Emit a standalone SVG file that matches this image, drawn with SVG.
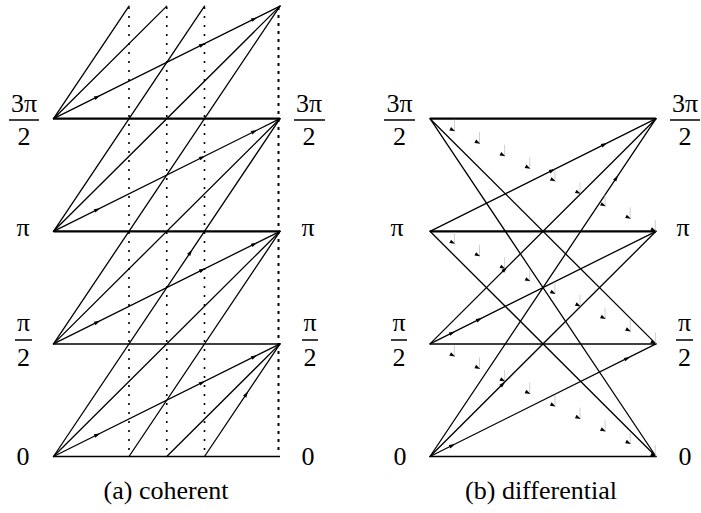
<svg xmlns="http://www.w3.org/2000/svg" xmlns:xlink="http://www.w3.org/1999/xlink" width="701" height="513" viewBox="0 0 701 513">
<style>
.t{font-family:"Liberation Serif","Times New Roman",serif;font-size:26px;fill:#000;text-anchor:middle}
.ln{stroke:#000;stroke-width:1.3;fill:none;stroke-linecap:round}
.hb{stroke:#000;stroke-width:2.3;fill:none}
.hn{stroke:#000;stroke-width:1.5;fill:none}
.bar{stroke:#000;stroke-width:1.5}
.dot{stroke:#000;stroke-width:1.6;stroke-dasharray:2 7;fill:none}
.dotr{stroke:#000;stroke-width:2;stroke-dasharray:3 5;fill:none}
.tick{stroke:#c4c4c4;stroke-width:0.8}
</style>
<defs>
<path id="ah" d="M0,0 L-6,-1.9 L-6,1.9 Z" fill="#000"/>
<g id="mk"><line class="tick" x1="-0.7" y1="-11.5" x2="-0.7" y2="0"/><path d="M0,0 L-5.5,-1.9 L-5.5,1.9 Z" fill="#000" transform="rotate(26.5)"/></g>
</defs>

<g id="labels-a">
<g id="a-left-3pi2"><text class="t" x="24" y="112">3π</text><line class="bar" x1="9" y1="120" x2="39" y2="120"/><text class="t" x="24" y="145">2</text></g>
<g id="a-left-pi"><text class="t" x="23" y="236">π</text></g>
<g id="a-left-pi2"><text class="t" x="23.5" y="331">π</text><line class="bar" x1="15" y1="340" x2="32" y2="340"/><text class="t" x="23.5" y="366">2</text></g>
<g id="a-left-0"><text class="t" x="23" y="465">0</text></g>
<g id="a-right-3pi2"><text class="t" x="309" y="112">3π</text><line class="bar" x1="294" y1="120" x2="325" y2="120"/><text class="t" x="309" y="145">2</text></g>
<g id="a-right-pi"><text class="t" x="308" y="236">π</text></g>
<g id="a-right-pi2"><text class="t" x="310" y="331">π</text><line class="bar" x1="302" y1="340" x2="318" y2="340"/><text class="t" x="310" y="366">2</text></g>
<g id="a-right-0"><text class="t" x="308" y="465">0</text></g>
<text class="t" x="166" y="499">(a) coherent</text>
</g>

<g id="labels-b">
<g id="b-left-3pi2"><text class="t" x="399.5" y="112">3π</text><line class="bar" x1="384" y1="120" x2="415" y2="120"/><text class="t" x="399.5" y="145">2</text></g>
<g id="b-left-pi"><text class="t" x="397" y="236">π</text></g>
<g id="b-left-pi2"><text class="t" x="399" y="331">π</text><line class="bar" x1="391" y1="340" x2="407" y2="340"/><text class="t" x="399" y="366">2</text></g>
<g id="b-left-0"><text class="t" x="400" y="465">0</text></g>
<g id="b-right-3pi2"><text class="t" x="685" y="112">3π</text><line class="bar" x1="670" y1="120" x2="700" y2="120"/><text class="t" x="685" y="145">2</text></g>
<g id="b-right-pi"><text class="t" x="683" y="236">π</text></g>
<g id="b-right-pi2"><text class="t" x="684.5" y="331">π</text><line class="bar" x1="676" y1="340" x2="693" y2="340"/><text class="t" x="684.5" y="366">2</text></g>
<g id="b-right-0"><text class="t" x="685" y="465">0</text></g>
<text class="t" x="541" y="499">(b) differential</text>
</g>

<g id="connectors-a">
<line class="dot" x1="129" y1="7" x2="129" y2="450"/>
<line class="dot" x1="166.75" y1="7" x2="166.75" y2="450"/>
<line class="dot" x1="204.5" y1="7" x2="204.5" y2="450"/>
<line class="dotr" x1="278.5" y1="7" x2="278.5" y2="452"/>
<line class="hn" x1="53.5" y1="456.5" x2="280" y2="456.5"/>
<line class="hn" x1="53.5" y1="343.9" x2="280" y2="343.9"/>
<line class="hb" x1="53.5" y1="231.3" x2="280" y2="231.3"/>
<line class="hb" x1="53.5" y1="118.7" x2="280" y2="118.7"/>
<line class="ln" x1="53.5" y1="456.5" x2="280" y2="343.9"/>
<line class="ln" x1="53.5" y1="343.9" x2="280" y2="231.3"/>
<line class="ln" x1="53.5" y1="231.3" x2="280" y2="118.7"/>
<line class="ln" x1="53.5" y1="118.7" x2="280" y2="6.1"/>
<line class="ln" x1="166.75" y1="456.5" x2="280" y2="343.9"/>
<line class="ln" x1="53.5" y1="456.5" x2="280" y2="231.3"/>
<line class="ln" x1="53.5" y1="343.9" x2="280" y2="118.7"/>
<line class="ln" x1="53.5" y1="231.3" x2="280" y2="6.1"/>
<line class="ln" x1="53.5" y1="118.7" x2="166.75" y2="6.1"/>
<line class="ln" x1="204.5" y1="456.5" x2="280" y2="343.9"/>
<line class="ln" x1="129" y1="456.5" x2="280" y2="231.3"/>
<line class="ln" x1="53.5" y1="456.5" x2="280" y2="118.7"/>
<line class="ln" x1="53.5" y1="343.9" x2="280" y2="6.1"/>
<line class="ln" x1="53.5" y1="231.3" x2="204.5" y2="6.1"/>
<line class="ln" x1="53.5" y1="118.7" x2="129" y2="6.1"/>
<use xlink:href="#ah" transform="translate(100,433.4) rotate(-26.4)"/>
<use xlink:href="#ah" transform="translate(205,381.2) rotate(-26.4)"/>
<use xlink:href="#ah" transform="translate(257,355.3) rotate(-26.4)"/>
<use xlink:href="#ah" transform="translate(100,320.8) rotate(-26.4)"/>
<use xlink:href="#ah" transform="translate(205,268.6) rotate(-26.4)"/>
<use xlink:href="#ah" transform="translate(257,242.7) rotate(-26.4)"/>
<use xlink:href="#ah" transform="translate(100,208.2) rotate(-26.4)"/>
<use xlink:href="#ah" transform="translate(205,156.0) rotate(-26.4)"/>
<use xlink:href="#ah" transform="translate(257,130.1) rotate(-26.4)"/>
<use xlink:href="#ah" transform="translate(100,95.6) rotate(-26.4)"/>
<use xlink:href="#ah" transform="translate(205,43.4) rotate(-26.4)"/>
<use xlink:href="#ah" transform="translate(257,17.5) rotate(-26.4)"/>
<use xlink:href="#ah" transform="translate(248,391.6) rotate(-56.2)"/>
<use xlink:href="#ah" transform="translate(192,249.9) rotate(-56.2)"/>
</g>

<g id="connectors-b">
<line class="hn" x1="430" y1="456.5" x2="656" y2="456.5"/>
<line class="hn" x1="430" y1="343.9" x2="656" y2="343.9"/>
<line class="hb" x1="430" y1="231.3" x2="656" y2="231.3"/>
<line class="hb" x1="430" y1="118.7" x2="656" y2="118.7"/>
<line class="ln" x1="430" y1="456.5" x2="656" y2="343.9"/>
<line class="ln" x1="430" y1="456.5" x2="656" y2="231.3"/>
<line class="ln" x1="430" y1="456.5" x2="656" y2="118.7"/>
<line class="ln" x1="430" y1="343.9" x2="656" y2="231.3"/>
<line class="ln" x1="430" y1="343.9" x2="656" y2="118.7"/>
<line class="ln" x1="430" y1="231.3" x2="656" y2="118.7"/>
<line class="ln" x1="430" y1="231.3" x2="656" y2="456.5"/>
<line class="ln" x1="430" y1="118.7" x2="656" y2="343.9"/>
<line class="ln" x1="430" y1="118.7" x2="656" y2="456.5"/>
<use xlink:href="#ah" transform="translate(507,267.2) rotate(-44.9)"/>
<use xlink:href="#ah" transform="translate(555,169.0) rotate(-26.5)"/>
<use xlink:href="#ah" transform="translate(607,143.1) rotate(-26.5)"/>
<use xlink:href="#ah" transform="translate(618,175.5) rotate(-56.2)"/>
<use xlink:href="#ah" transform="translate(505,381.8) rotate(-44.9)"/>
<use xlink:href="#ah" transform="translate(455,331.4) rotate(-26.5)"/>
<use xlink:href="#ah" transform="translate(482,318.0) rotate(-26.5)"/>
<use xlink:href="#ah" transform="translate(455,444.0) rotate(-26.5)"/>
<use xlink:href="#ah" transform="translate(630,356.9) rotate(-26.5)"/>
<g id="marks-3to2">
<use xlink:href="#mk" x="455.1" y="131.2"/><use xlink:href="#mk" x="480.2" y="143.7"/><use xlink:href="#mk" x="505.3" y="156.2"/><use xlink:href="#mk" x="530.4" y="168.7"/><use xlink:href="#mk" x="555.6" y="181.3"/><use xlink:href="#mk" x="580.7" y="193.8"/><use xlink:href="#mk" x="605.8" y="206.3"/><use xlink:href="#mk" x="630.9" y="218.8"/><use xlink:href="#mk" x="656" y="231.3"/>
</g>
<g id="marks-2to1">
<use xlink:href="#mk" x="455.1" y="243.8"/><use xlink:href="#mk" x="480.2" y="256.3"/><use xlink:href="#mk" x="505.3" y="268.8"/><use xlink:href="#mk" x="530.4" y="281.3"/><use xlink:href="#mk" x="555.6" y="293.9"/><use xlink:href="#mk" x="580.7" y="306.4"/><use xlink:href="#mk" x="605.8" y="318.9"/><use xlink:href="#mk" x="630.9" y="331.4"/><use xlink:href="#mk" x="656" y="343.9"/>
</g>
<g id="marks-1to0">
<use xlink:href="#mk" x="455.1" y="356.4"/><use xlink:href="#mk" x="480.2" y="368.9"/><use xlink:href="#mk" x="505.3" y="381.4"/><use xlink:href="#mk" x="530.4" y="393.9"/><use xlink:href="#mk" x="555.6" y="406.5"/><use xlink:href="#mk" x="580.7" y="419.0"/><use xlink:href="#mk" x="605.8" y="431.5"/><use xlink:href="#mk" x="630.9" y="444.0"/><use xlink:href="#mk" x="656" y="456.5"/>
</g>
</g>
</svg>
